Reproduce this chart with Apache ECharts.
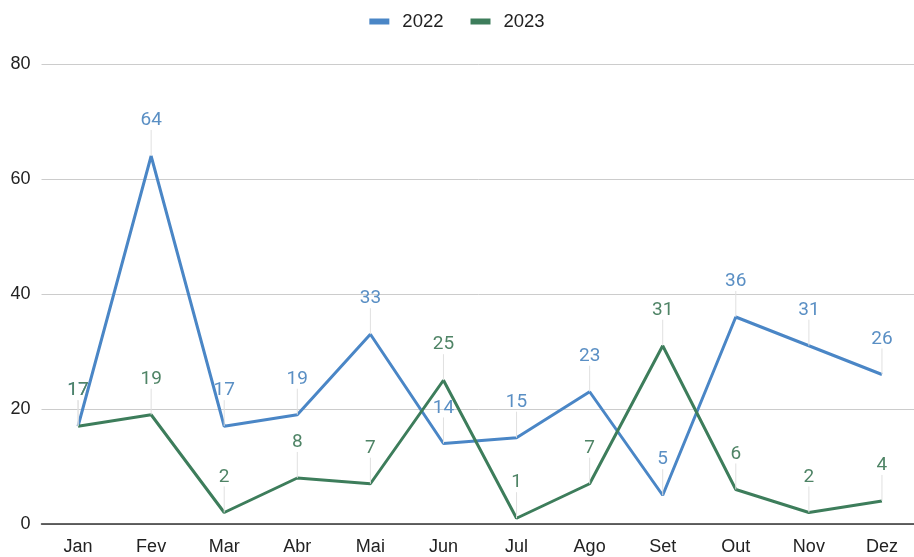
<!DOCTYPE html>
<html>
<head>
<meta charset="utf-8">
<script src="https://cdn.jsdelivr.net/npm/echarts@6/dist/echarts.min.js"></script>
<style>html,body{margin:0;padding:0;background:#fff}#c{width:914px;height:557px}</style>
</head>
<body>
<div id="c"></div>
<script>
var categories = ['Jan','Fev','Mar','Abr','Mai','Jun','Jul','Ago','Set','Out','Nov','Dez'];
var values2022 = [17, 64, 17, 19, 33, 14, 15, 23, 5, 36, 31, 26];
var values2023 = [17, 19, 2, 8, 7, 25, 1, 7, 31, 6, 2, 4];
var yTicks = [0, 20, 40, 60, 80];

var blue = '#4a86c6';
var green = '#3d7d5b';
var sans = '"Liberation Sans", Arial, sans-serif';

function mkSeries(name, data, color, labelColor) {
  return {
    name: name,
    type: 'line',
    data: data,
    symbol: 'circle',
    symbolSize: 0.1,
    showSymbol: true,
    lineStyle: { width: 3, color: color },
    itemStyle: { color: color },
    label: {
      show: true,
      position: 'top',
      distance: 6,
      color: labelColor,
      fontSize: 19,
      fontFamily: 'Roboto'
    },
    labelLayout: { dy: -20 },
    labelLine: { show: true, lineStyle: { color: '#e0e0e0', width: 1 } },
    emphasis: { disabled: true },
    animation: false
  };
}

var chart = echarts.init(document.getElementById('c'), null, { renderer: 'canvas' });
chart.setOption({
  animation: false,
  legend: {
    top: 7,
    left: 'center',
    itemWidth: 20,
    itemHeight: 6,
    itemGap: 27,
    icon: 'rect',
    textStyle: { fontSize: 18.5, color: '#222', fontFamily: sans, padding: [0, 0, 0, 8] },
    data: ['2022', '2023']
  },
  grid: { left: 41.5, width: 877, top: 64, bottom: 33, containLabel: false, outerBoundsMode: 'none' },
  xAxis: {
    type: 'category',
    data: categories,
    boundaryGap: true,
    axisLine: { lineStyle: { color: '#333', width: 1.5 } },
    axisTick: { show: false },
    axisLabel: { fontSize: 18, color: '#222', margin: 14, fontFamily: sans }
  },
  yAxis: {
    type: 'value',
    min: yTicks[0],
    max: yTicks[yTicks.length - 1],
    interval: 20,
    axisLine: { show: false },
    axisTick: { show: false },
    splitLine: { lineStyle: { color: '#cccccc', width: 1 } },
    axisLabel: { fontSize: 18, color: '#222', margin: 11, fontFamily: sans }
  },
  series: [
    mkSeries('2022', values2022, blue, '#5a8fc4'),
    mkSeries('2023', values2023, green, '#4f8466')
  ]
});
</script>
</body>
</html>
